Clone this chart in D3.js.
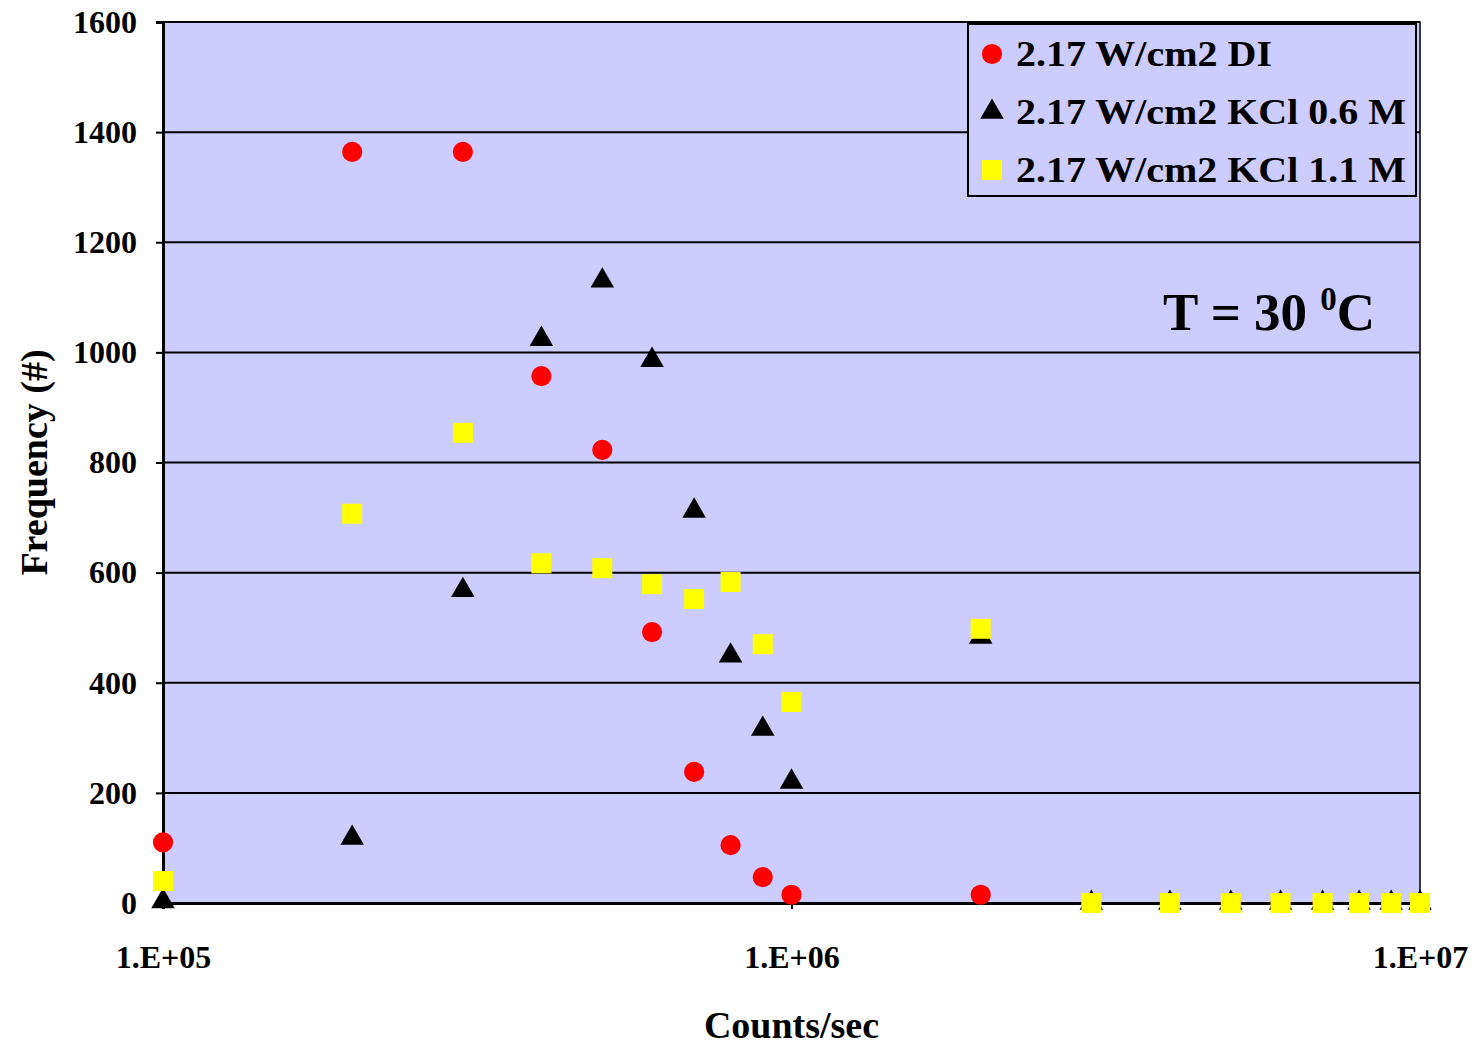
<!DOCTYPE html>
<html>
<head>
<meta charset="utf-8">
<script src="https://cdn.jsdelivr.net/npm/d3@7"></script>
<style>
  body { margin: 0; background: #fff; }
  text { font-family: "Liberation Serif", "Times New Roman", serif; font-weight: bold; }
</style>
</head>
<body>
<script>
const margem = {topo: 22, direita: 56, base: 142, esquerda: 163}
const largura = 1476 - margem.esquerda - margem.direita
const altura = 1045 - margem.topo - margem.base

// counts/sec
const contagens = [1e5, 2e5, 3e5, 4e5, 5e5, 6e5, 7e5, 8e5, 9e5, 1e6, 2e6,
  3e6, 4e6, 5e6, 6e6, 7e6, 8e6, 9e6, 1e7]

const freqDI = [110, 1364, 1364, 957, 823, 492, 238, 105, 47, 15, 15,
  0, 0, 0, 0, 0, 0, 0, 0]
const freqKCl06 = [3, 118, 568, 1024, 1130, 986, 712, 449, 316, 220, 483,
  0, 0, 0, 0, 0, 0, 0, 0]
const freqKCl11 = [40, 707, 854, 617, 608, 579, 552, 583, 470, 365, 498,
  0, 0, 0, 0, 0, 0, 0, 0]

const nomes = ['2.17 W/cm2 DI', '2.17 W/cm2 KCl 0.6 M', '2.17 W/cm2 KCl 1.1 M']
const ticksY = [0, 200, 400, 600, 800, 1000, 1200, 1400, 1600]
const ticksX = [1e5, 1e6, 1e7]

var series = [
  {nome: nomes[0], valores: freqDI, simbolo: d3.symbolCircle, cor: 'red', tam: 320},
  {nome: nomes[1], valores: freqKCl06, simbolo: d3.symbolTriangle, cor: 'black', tam: 240},
  {nome: nomes[2], valores: freqKCl11, simbolo: d3.symbolSquare, cor: 'yellow', tam: 400}
]

var meuSVG = d3.select('body')
              .append('svg')
                .attr('width', 1476)
                .attr('height', 1045)

var grupo = meuSVG.append('g')
                  .attr('transform', 'translate(' + margem.esquerda + ',' + margem.topo + ')')

var escalaX = d3.scaleLog()
                .domain([1e5, 1e7])
                .range([0, largura])

var escalaY = d3.scaleLinear()
                .domain([0, 1600])
                .range([altura, 0])

// fundo
grupo.append('rect')
    .attr('width', largura)
    .attr('height', altura)
    .attr('fill', '#ccccff')

// grade
grupo.selectAll('.grade')
    .data(ticksY)
    .enter()
    .append('line')
      .attr('x1', 0)
      .attr('x2', largura)
      .attr('y1', d => escalaY(d))
      .attr('y2', d => escalaY(d))
      .attr('stroke', 'black')
      .attr('stroke-width', 2)

grupo.append('rect')
    .attr('width', largura)
    .attr('height', altura)
    .attr('fill', 'none')
    .attr('stroke', 'black')
    .attr('stroke-width', 1.5)

var eixoEsquerda = d3.axisLeft(escalaY)
              .tickValues(ticksY)
              .tickFormat(d3.format('d'))
              .tickSize(7)
              .tickPadding(19)

var eixoBase = d3.axisBottom(escalaX)
              .tickValues(ticksX)
              .tickFormat(d => '1.E+' + String(Math.log10(d)).padStart(2, '0'))
              .tickSize(6)
              .tickPadding(36)

var grupoEixoEsquerda = grupo.append('g').call(eixoEsquerda)
var grupoEixoBase = grupo.append('g')
                      .attr('transform', 'translate(0,' + altura + ')')
                      .call(eixoBase)

grupoEixoEsquerda.select('.domain').attr('stroke-width', 3)
grupoEixoBase.select('.domain').attr('stroke-width', 3)
grupoEixoEsquerda.selectAll('line').attr('stroke-width', 2)
grupoEixoBase.selectAll('line').attr('stroke-width', 2)
grupoEixoEsquerda.selectAll('text')
    .attr('font-size', 32)
    .attr('font-family', '"Liberation Serif", serif')
    .attr('font-weight', 'bold')
    .attr('fill', 'black')
grupoEixoBase.selectAll('text')
    .attr('font-size', 32)
    .attr('font-family', '"Liberation Serif", serif')
    .attr('font-weight', 'bold')
    .attr('fill', 'black')

// pontos
series.forEach(function (s) {
  grupo.append('g')
    .selectAll('path')
    .data(s.valores.map((v, i) => ({x: contagens[i], y: v})))
    .enter()
    .append('path')
      .attr('d', d3.symbol().type(s.simbolo).size(s.tam))
      .attr('transform', d => 'translate(' + escalaX(d.x) + ',' + escalaY(d.y) + ')')
      .attr('fill', s.cor)
})

// legenda
var legenda = grupo.append('g')
                .attr('transform', 'translate(' + (968 - margem.esquerda) + ',' + (24 - margem.topo) + ')')

legenda.append('rect')
    .attr('width', 448)
    .attr('height', 172)
    .attr('fill', '#ccccff')
    .attr('stroke', 'black')
    .attr('stroke-width', 2)

series.forEach(function (s, i) {
  var linha = legenda.append('g')
                .attr('transform', 'translate(24,' + (30 + i * 58) + ')')
  linha.append('path')
      .attr('d', d3.symbol().type(s.simbolo).size(s.tam))
      .attr('fill', s.cor)
  linha.append('text')
      .attr('x', 24)
      .attr('y', 12)
      .attr('font-size', 36)
      .attr('textLength', i == 0 ? 256 : 390)
      .attr('lengthAdjust', 'spacingAndGlyphs')
      .text(s.nome)
})

// anotacao
var anotacao = grupo.append('text')
                .attr('x', 1163 - margem.esquerda)
                .attr('y', 330 - margem.topo)
                .attr('font-size', 53)
anotacao.append('tspan').text('T = 30 ')
anotacao.append('tspan').attr('font-size', 33).attr('dy', -20).text('0')
anotacao.append('tspan').attr('dy', 20).text('C')

// titulos
grupo.append('text')
    .attr('x', largura / 2)
    .attr('y', 1038 - margem.topo)
    .attr('text-anchor', 'middle')
    .attr('font-size', 38)
    .text('Counts/sec')

grupo.append('text')
    .attr('transform', 'translate(' + (47 - margem.esquerda) + ',' + (altura / 2) + ') rotate(-90)')
    .attr('text-anchor', 'middle')
    .attr('font-size', 38)
    .text('Frequency (#)')
</script>
</body>
</html>
